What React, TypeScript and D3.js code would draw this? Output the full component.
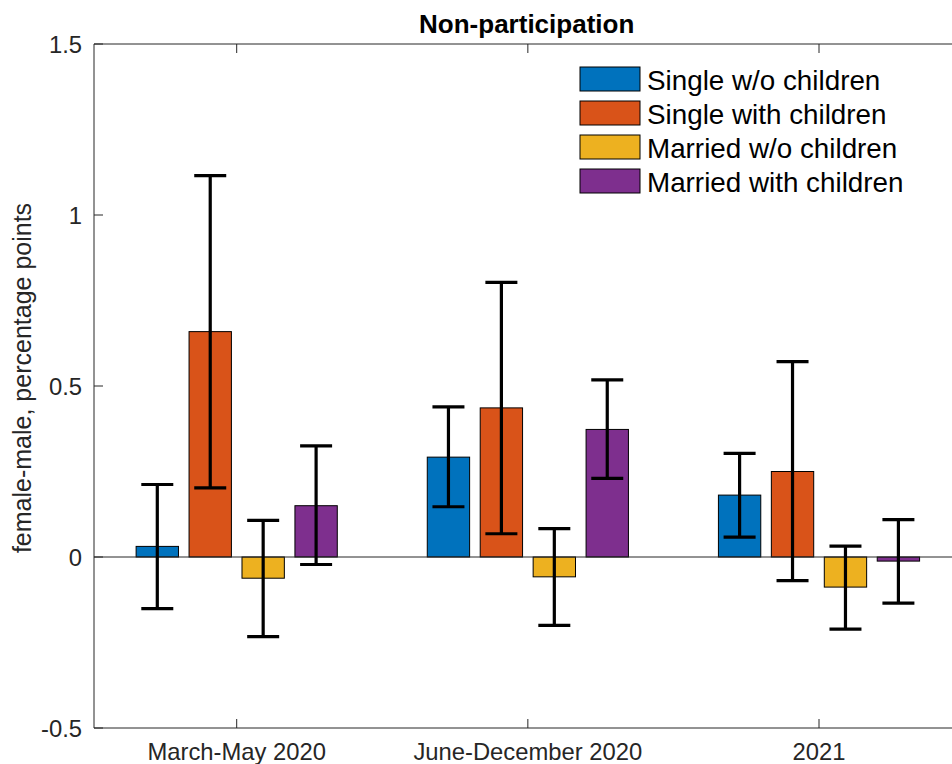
import React from "react";
import * as d3 from "d3";

const categories = ["March-May 2020", "June-December 2020", "2021"];
const seriesNames = [
  "Single w/o children",
  "Single with children",
  "Married w/o children",
  "Married with children",
];
const seriesColors = ["#0072BD", "#D95319", "#EDB120", "#7E2F8E"];

const singleNoKids = [0.031, 0.292, 0.181];
const singleKids = [0.659, 0.436, 0.25];
const marriedNoKids = [-0.062, -0.058, -0.088];
const marriedKids = [0.15, 0.373, -0.012];

const singleNoKidsLo = [-0.151, 0.147, 0.058];
const singleNoKidsHi = [0.212, 0.439, 0.303];
const singleKidsLo = [0.202, 0.068, -0.069];
const singleKidsHi = [1.115, 0.803, 0.571];
const marriedNoKidsLo = [-0.233, -0.2, -0.211];
const marriedNoKidsHi = [0.107, 0.083, 0.032];
const marriedKidsLo = [-0.022, 0.23, -0.135];
const marriedKidsHi = [0.325, 0.518, 0.109];

const yTicks = [-0.5, 0, 0.5, 1, 1.5];
const yTickLabels = ["-0.5", "0", "0.5", "1", "1.5"];

const values = [singleNoKids, singleKids, marriedNoKids, marriedKids];
const lows = [singleNoKidsLo, singleKidsLo, marriedNoKidsLo, marriedKidsLo];
const highs = [singleNoKidsHi, singleKidsHi, marriedNoKidsHi, marriedKidsHi];

export default function App() {
  const W = 952;
  const H = 764;
  const left = 94;
  const right = 962;
  const top = 44;
  const bottom = 728;

  const x = d3.scaleLinear().domain([1, 3]).range([236.7, 819]);
  const y = d3.scaleLinear().domain([-0.5, 1.5]).range([bottom, top]);

  const nS = values.length;
  const groupWidth = Math.min(0.8, nS / (nS + 1.5));
  const step = groupWidth / nS;
  const barW = step * 0.8;
  const offset = (j: number) => -groupWidth / 2 + step * (j + 0.5);

  const font = "'Liberation Sans', Arial, Helvetica, sans-serif";
  const axisColor = "#262626";

  return (
    <svg
      width={W}
      height={H}
      style={{ position: "absolute", left: 0, top: 0, background: "#fff" }}
      fontFamily={font}
    >
      <rect x={0} y={0} width={W} height={H} fill="#fff" />
      {values.map((vals, j) =>
        vals.map((v, i) => {
          const x0 = x(i + 1 + offset(j) - barW / 2);
          const x1 = x(i + 1 + offset(j) + barW / 2);
          const y0 = y(Math.max(0, v));
          const y1 = y(Math.min(0, v));
          return (
            <rect
              key={`b${j}-${i}`}
              x={x0}
              y={y0}
              width={x1 - x0}
              height={Math.max(0.5, y1 - y0)}
              fill={seriesColors[j]}
              stroke="#000"
              strokeWidth={1}
            />
          );
        })
      )}
      <line x1={left} x2={right} y1={y(0)} y2={y(0)} stroke={axisColor} strokeWidth={1} />
      {values.map((vals, j) =>
        vals.map((v, i) => {
          const cx = x(i + 1 + offset(j));
          const lo = y(lows[j][i]);
          const hi = y(highs[j][i]);
          const cap = 16;
          return (
            <g key={`e${j}-${i}`} stroke="#000" strokeWidth={3.2}>
              <line x1={cx} x2={cx} y1={lo} y2={hi} />
              <line x1={cx - cap} x2={cx + cap} y1={lo} y2={lo} />
              <line x1={cx - cap} x2={cx + cap} y1={hi} y2={hi} />
            </g>
          );
        })
      )}
      <line x1={left} x2={left} y1={top} y2={bottom} stroke={axisColor} strokeWidth={1} />
      <line x1={left} x2={right} y1={top} y2={top} stroke={axisColor} strokeWidth={1} />
      <line x1={left} x2={right} y1={bottom} y2={bottom} stroke={axisColor} strokeWidth={1} />
      {yTicks.map((t, k) => (
        <g key={`yt${k}`}>
          <line x1={left} x2={left + 9} y1={y(t)} y2={y(t)} stroke={axisColor} strokeWidth={1} />
          <text
            x={left - 12}
            y={y(t)}
            textAnchor="end"
            dominantBaseline="central"
            fontSize={23.8}
            fill={axisColor}
          >
            {yTickLabels[k]}
          </text>
        </g>
      ))}
      {categories.map((c, i) => (
        <g key={`xt${i}`}>
          <line x1={x(i + 1)} x2={x(i + 1)} y1={bottom} y2={bottom - 9} stroke={axisColor} strokeWidth={1} />
          <line x1={x(i + 1)} x2={x(i + 1)} y1={top} y2={top + 9} stroke={axisColor} strokeWidth={1} />
          <text x={x(i + 1)} y={760} textAnchor="middle" fontSize={23.8} fill={axisColor}>
            {c}
          </text>
        </g>
      ))}
      <text x={526.7} y={33} textAnchor="middle" fontSize={26} fontWeight="bold" fill="#000">
        Non-participation
      </text>
      <text
        transform={`translate(31, 378) rotate(-90)`}
        textAnchor="middle"
        fontSize={25}
        fill={axisColor}
      >
        female-male, percentage points
      </text>
      {seriesNames.map((name, j) => {
        const cy = 79 + j * 34;
        return (
          <g key={`lg${j}`}>
            <rect x={580} y={cy - 12} width={60} height={24} fill={seriesColors[j]} stroke="#000" strokeWidth={1} />
            <text x={647} y={cy + 1} dominantBaseline="central" fontSize={27.8} fill="#000">
              {name}
            </text>
          </g>
        );
      })}
    </svg>
  );
}
